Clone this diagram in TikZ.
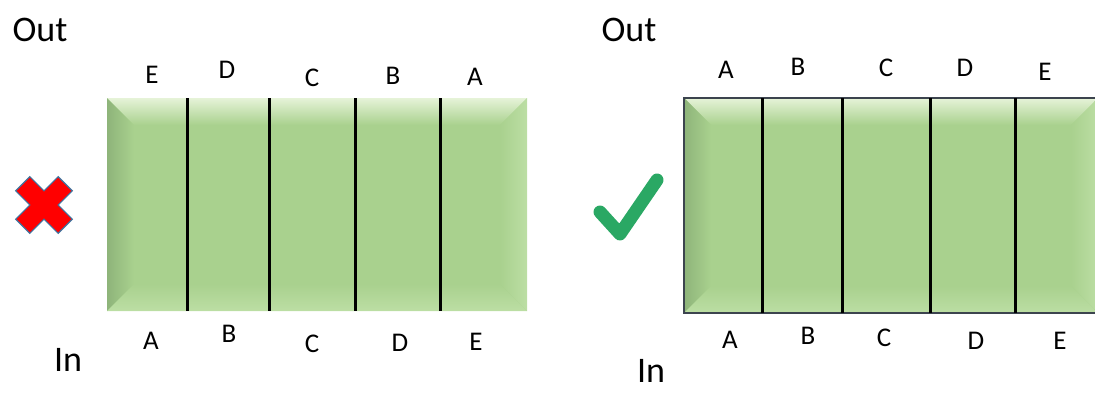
\documentclass[tikz,border=0pt]{standalone}
\usepackage{fontspec}
\setmainfont{Carlito}
\definecolor{faceGreen}{RGB}{169,209,142}
\definecolor{lightGreen}{RGB}{230,243,216}
\definecolor{darkGreen}{RGB}{142,180,122}
\definecolor{rimGreen}{RGB}{188,222,164}
\definecolor{crossRed}{RGB}{255,0,0}
\definecolor{crossRim}{RGB}{65,113,156}
\definecolor{tickGreen}{RGB}{42,168,100}
\definecolor{frameGray}{RGB}{60,68,78}

\tikzset{
  lbl/.style={font=\fontsize{27}{30}\selectfont, inner sep=0pt},
  side/.style={font=\fontsize{36}{40}\selectfont, inner sep=0pt},
  divider/.style={line width=3pt, black},
}

\begin{document}
\begin{tikzpicture}[x=1pt, y=-1pt]
    \useasboundingbox (0,0) rectangle (1095,392);

    % bevelled green blocks
    \foreach \l/\t/\r/\b in {107/98/527/311, 684/98/1098/313} {
        \fill[faceGreen] (\l,\t) rectangle (\r,\b);
        \shade[top color=lightGreen, bottom color=faceGreen] (\l,\t) -- (\r,\t) -- (\r-27,\t+27) -- (\l+27,\t+27) -- cycle;
        \shade[left color=darkGreen, right color=faceGreen] (\l,\t) -- (\l+27,\t+27) -- (\l+27,\b-27) -- (\l,\b) -- cycle;
        \shade[left color=faceGreen, right color=rimGreen] (\r,\t) -- (\r,\b) -- (\r-27,\b-27) -- (\r-27,\t+27) -- cycle;
        \shade[top color=faceGreen, bottom color=rimGreen] (\l,\b) -- (\r,\b) -- (\r-27,\b-27) -- (\l+27,\b-27) -- cycle;
    }
    \draw[frameGray, line width=2pt] (684,98) rectangle (1098,313);

    \foreach \x in {187,269,355,440}
        \draw[divider] (\x,98) -- (\x,311);
    \foreach \x in {762,842,930,1015}
        \draw[divider] (\x,98) -- (\x,313);

    % wrong order
    \node[side] (outL) at (40,30) {Out};
    \node[side] (inL) at (68,360) {In};
    \foreach \s/\x/\y [count=\i] in {E/152/75, D/227/70, C/312/78, B/393/76, A/475/77}
        \node[lbl] (topL\i) at (\x,\y) {\s};
    \foreach \s/\x/\y [count=\i] in {A/151/341, B/229/334, C/312/344, D/400/343, E/476/342}
        \node[lbl] (botL\i) at (\x,\y) {\s};

    \begin{scope}[shift={(44,205)}, rotate=45]
        \filldraw[fill=crossRed, draw=crossRim, line width=1.2pt]
            (10,30) -- (10,10) -- (30,10) -- (30,-10) -- (10,-10) -- (10,-30)
            -- (-10,-30) -- (-10,-10) -- (-30,-10) -- (-30,10) -- (-10,10) -- (-10,30) -- cycle;
    \end{scope}

    % right order
    \node[side] (outR) at (629,30) {Out};
    \node[side] (inR) at (651,371) {In};
    \foreach \s/\x/\y [count=\i] in {A/726/70, B/798/67, C/886/68, D/965/68, E/1045/72}
        \node[lbl] (topR\i) at (\x,\y) {\s};
    \foreach \s/\x/\y [count=\i] in {A/730/340, B/808/336, C/884/338, D/976/341, E/1060/341}
        \node[lbl] (botR\i) at (\x,\y) {\s};

    \draw[tickGreen, line width=13pt, line cap=round, line join=round]
        (600,212) -- (620,234) -- (657,180);
\end{tikzpicture}
\end{document}
